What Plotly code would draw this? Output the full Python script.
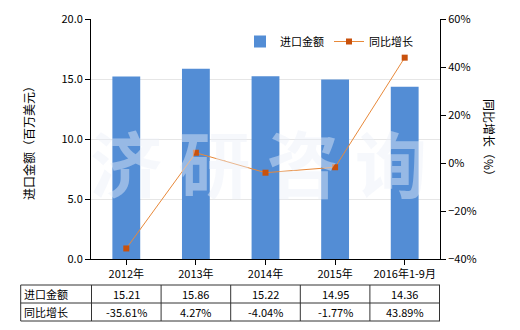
import plotly.graph_objects as go

categories = ["2012年", "2013年", "2014年", "2015年", "2016年1-9月"]
import_values = [15.21, 15.86, 15.22, 14.95, 14.36]
growth_values = [-35.61, 4.27, -4.04, -1.77, 43.89]
import_labels = ["15.21", "15.86", "15.22", "14.95", "14.36"]
growth_labels = ["-35.61%", "4.27%", "-4.04%", "-1.77%", "43.89%"]
row_names = ["进口金额", "同比增长"]

FONT = "Noto Sans CJK SC"
BAR_COLOR = "#538DD5"
LINE_COLOR = "#E8893A"
MARKER_COLOR = "#C9510C"

fig = go.Figure()
fig.add_trace(go.Bar(
    x=categories, y=import_values, name="进口金额",
    marker=dict(color=BAR_COLOR, line=dict(width=0)), width=0.4,
))
fig.add_trace(go.Scatter(
    x=categories, y=growth_values, name="同比增长", yaxis="y2",
    mode="lines+markers",
    line=dict(color=LINE_COLOR, width=1),
    marker=dict(symbol="square", size=6, color=MARKER_COLOR),
))

W, H = 520, 330
ml, mr, mt, mb = 91, 80, 19, 71
ph = H - mt - mb
pw = W - ml - mr

def py(pix):
    return (H - mb - pix) / ph

def px(pix):
    return (pix - ml) / pw

shapes = []
line_style = dict(color="#333333", width=1)
for yy in [285, 303, 321]:
    shapes.append(dict(type="line", xref="paper", yref="paper",
                       x0=px(20.7), x1=1, y0=py(yy), y1=py(yy), line=line_style))
shapes.append(dict(type="line", xref="paper", yref="paper",
                   x0=px(20.7), x1=px(20.7), y0=py(285), y1=py(321), line=line_style))
for i in range(len(categories) + 1):
    xb = i - 0.5
    shapes.append(dict(type="line", xref="x", yref="paper",
                       x0=xb, x1=xb, y0=py(285), y1=py(321), line=line_style))

annotations = []
cell_font = dict(family=FONT, size=11, color="#000")
for i, c in enumerate(categories):
    annotations.append(dict(x=c, y=py(294), xref="x", yref="paper", text=import_labels[i],
                            showarrow=False, xanchor="center", yanchor="middle", font=cell_font))
    annotations.append(dict(x=c, y=py(312), xref="x", yref="paper", text=growth_labels[i],
                            showarrow=False, xanchor="center", yanchor="middle", font=cell_font))
for j, name in enumerate(row_names):
    annotations.append(dict(x=px(22), y=py(294 + 18 * j), xref="paper", yref="paper",
                            text=name, showarrow=False, xanchor="left", yanchor="middle",
                            font=cell_font))

annotations.append(dict(x=px(28), y=py(140), xref="paper", yref="paper",
                        text="进口金额（百万美元）", textangle=-90, showarrow=False,
                        xanchor="center", yanchor="middle",
                        font=dict(family=FONT, size=12, color="#000")))
annotations.append(dict(x=px(490), y=py(140), xref="paper", yref="paper",
                        text="同比增长（%）", textangle=90, showarrow=False,
                        xanchor="center", yanchor="middle",
                        font=dict(family=FONT, size=12, color="#000")))

# watermark
annotations.append(dict(x=px(258), y=py(160), xref="paper", yref="paper",
                        text="<b>济 研 咨 询</b>", showarrow=False,
                        xanchor="center", yanchor="middle",
                        font=dict(family=FONT, size=72, color="rgba(235,240,248,0.45)")))

fig.update_layout(
    width=W, height=H,
    margin=dict(l=ml, r=mr, t=mt, b=mb, autoexpand=False),
    paper_bgcolor="white", plot_bgcolor="white",
    font=dict(family=FONT, size=11, color="#000"),
    showlegend=True,
    legend=dict(orientation="h", x=px(240), y=py(27), xanchor="left", yanchor="top",
                font=dict(family=FONT, size=11, color="#000"), bgcolor="rgba(0,0,0,0)"),
    xaxis=dict(showline=True, linecolor="#000", linewidth=1, ticks="outside", ticklen=5,
               tickcolor="#000", showgrid=False, automargin=False,
               tickfont=dict(family=FONT, size=11, color="#000")),
    yaxis=dict(range=[0, 20], dtick=5, tickformat=".1f", showline=True, linecolor="#000",
               linewidth=1, ticks="outside", ticklen=5, tickcolor="#000",
               showgrid=True, gridcolor="#e6e6e6", zeroline=False, automargin=False,
               tickfont=dict(family=FONT, size=11, color="#000")),
    yaxis2=dict(range=[-40, 60], dtick=20, ticksuffix="%", overlaying="y", side="right",
                showline=True, linecolor="#000", linewidth=1, ticks="outside", ticklen=5,
                tickcolor="#000", showgrid=False, zeroline=False, automargin=False,
                tickfont=dict(family=FONT, size=11, color="#000")),
    shapes=shapes,
    annotations=annotations,
)

fig.write_html("out.html")
